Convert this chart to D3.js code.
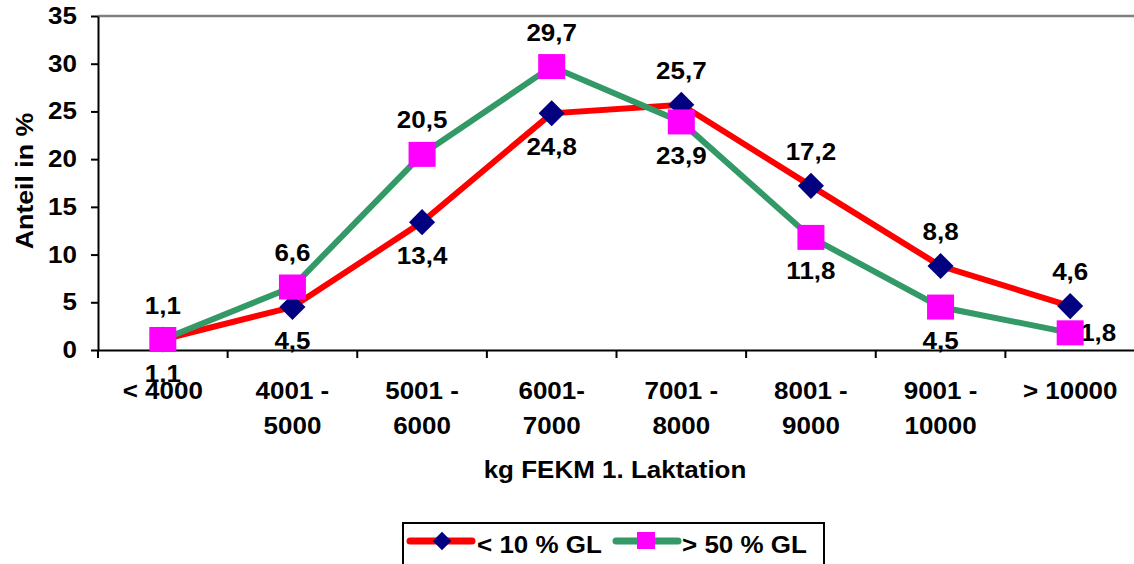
<!DOCTYPE html>
<html>
<head>
<meta charset="utf-8">
<script src="https://cdn.jsdelivr.net/npm/d3@7"></script>
<style>
body { margin:0; background:#fff; }
text { font-family:"Liberation Sans", Arial, sans-serif; font-weight:bold; fill:#000; font-size:23px; }
</style>
</head>
<body>
<div id="chart"></div>
<script>
// Daten
var categories = [['< 4000'], ['4001 -', '5000'], ['5001 -', '6000'], ['6001-', '7000'],
                  ['7001 -', '8000'], ['8001 -', '9000'], ['9001 -', '10000'], ['> 10000']];
var lowGL = [1.1, 4.5, 13.4, 24.8, 25.7, 17.2, 8.8, 4.6];
var highGL = [1.1, 6.6, 20.5, 29.7, 23.9, 11.8, 4.5, 1.8];
// label side: -1 above, 1 below, 2 right
var lowPos = [1, 1, 1, 1, -1, -1, -1, -1];
var highPos = [-1, -1, -1, -1, 1, 1, 1, 2];
var yTicks = [0, 5, 10, 15, 20, 25, 30, 35];
var seriesNames = ['< 10 % GL', '> 50 % GL'];

var W = 1134, H = 564, SX = 1.13;
var m = {l:98, t:16, b:214};
var svg = d3.select('#chart').append('svg').attr('width', W).attr('height', H);

var x = d3.scaleBand().domain(d3.range(categories.length)).range([m.l, 1135]);
var y = d3.scaleLinear().domain([0, 35]).range([H - m.b, m.t]);
var fmt = function(v) { return d3.format('.1f')(v).replace('.', ','); };
var cx = function(d, i) { return x(i) + x.bandwidth() / 2; };

// stretched text (the original is a bit wide)
function stext(g, tx, ty, anchor, str) {
    return g.append('text').attr('transform', 'translate(' + tx + ',' + ty + ') scale(' + SX + ',1)')
        .attr('text-anchor', anchor).text(str);
}

// plot frame top
svg.append('line').attr('x1', m.l).attr('x2', W).attr('y1', y(35)).attr('y2', y(35))
    .style('stroke', '#808080').style('stroke-width', 2.5);

// axes
var yAx = svg.append('g').attr('transform', 'translate(' + m.l + ',0)')
    .call(d3.axisLeft(y).tickValues(yTicks).tickSize(7).tickSizeOuter(0).tickFormat(''));
yAx.select('.domain').style('stroke', '#000').style('stroke-width', 2);
yAx.selectAll('.tick line').style('stroke', '#000').style('stroke-width', 2);
yTicks.forEach(function(t) { stext(svg, 77, y(t) + 8, 'end', t); });

var xAx = svg.append('g').attr('transform', 'translate(0,' + y(0) + ')')
    .call(d3.axisBottom(x).tickSize(0).tickFormat(''));
xAx.select('.domain').style('stroke', '#000').style('stroke-width', 2);
// category boundary ticks
svg.selectAll('.xt').data(d3.range(categories.length + 1)).enter().append('line')
    .attr('x1', function(i) { return m.l + i * x.step(); })
    .attr('x2', function(i) { return m.l + i * x.step(); })
    .attr('y1', y(0)).attr('y2', y(0) + 8)
    .style('stroke', '#000').style('stroke-width', 2);

categories.forEach(function(c, i) {
    c.forEach(function(s, j) { stext(svg, cx(0, i), 399 + j * 35, 'middle', s); });
});

stext(svg, 615, 478, 'middle', 'kg FEKM 1. Laktation');
svg.append('text').attr('transform', 'translate(33,' + 181 + ') rotate(-90) scale(1.16,1)')
    .attr('text-anchor', 'middle').text('Anteil in %');

// lines
var line = d3.line().x(cx).y(function(d) { return y(d); });
svg.append('path').datum(lowGL).attr('d', line)
    .style('fill', 'none').style('stroke', '#ff0000').style('stroke-width', 6);
svg.append('path').datum(highGL).attr('d', line)
    .style('fill', 'none').style('stroke', '#339966').style('stroke-width', 6);

// labels
function labels(vals, pos) {
    vals.forEach(function(d, i) {
        if (pos[i] == 2) stext(svg, cx(d, i) + 28, y(d) + 8, 'middle', fmt(d));
        else stext(svg, cx(d, i), y(d) + pos[i] * 34 + 8, 'middle', fmt(d));
    });
}
labels(lowGL, lowPos);
labels(highGL, highPos);

var diamond = d3.symbol().type(d3.symbolSquare).size(340);
svg.selectAll('.dm').data(lowGL).enter().append('path')
    .attr('d', diamond)
    .attr('transform', function(d, i) { return 'translate(' + cx(d, i) + ',' + y(d) + ') rotate(45)'; })
    .style('fill', '#000080');
svg.selectAll('.sq').data(highGL).enter().append('rect')
    .attr('x', function(d, i) { return cx(d, i) - 13.5; }).attr('y', function(d) { return y(d) - 12.5; })
    .attr('width', 27).attr('height', 25).style('fill', '#ff00ff');

// legend
var lg = svg.append('g');
lg.append('rect').attr('x', 403).attr('y', 523).attr('width', 421).attr('height', 50)
    .style('fill', '#fff').style('stroke', '#000').style('stroke-width', 2);
var items = [{c:'#ff0000', x:410, t:477}, {c:'#339966', x:616, t:682}];
items.forEach(function(it, k) {
    lg.append('line').attr('x1', it.x).attr('x2', it.x + 62).attr('y1', 541).attr('y2', 541)
        .style('stroke', it.c).style('stroke-width', 7).style('stroke-linecap', 'round');
    if (k == 0) {
        lg.append('path').attr('d', d3.symbol().type(d3.symbolSquare).size(170))
            .attr('transform', 'translate(' + (it.x + 32) + ',541) rotate(45)').style('fill', '#000080');
    } else {
        lg.append('rect').attr('x', it.x + 21).attr('y', 532).attr('width', 18).attr('height', 17).style('fill', '#ff00ff');
    }
    stext(lg, it.t, 553, 'start', seriesNames[k]);
});
</script>
</body>
</html>
